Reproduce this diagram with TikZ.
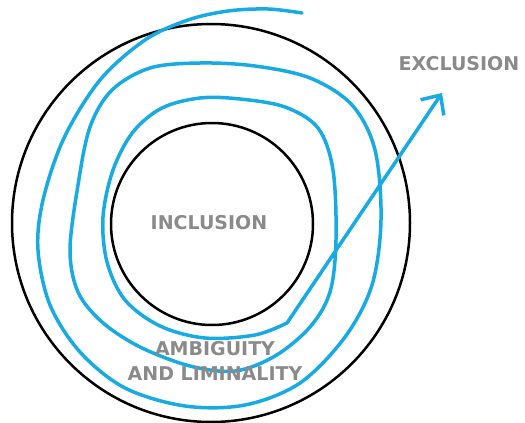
\documentclass[tikz,border=0pt]{standalone}
\usepackage{fontspec}
\usepackage{xcolor}
\usepackage{tikz}
\usetikzlibrary{arrows.meta}
\newfontfamily\labelfont{DejaVu Sans}
\definecolor{spiralblue}{RGB}{24,170,226}
\definecolor{labelgray}{RGB}{138,138,138}

\begin{document}
\begin{tikzpicture}[x=1pt,y=-1pt,
    ring/.style={draw=black, circle, line width=2.5pt, inner sep=0pt},
    spiral/.style={draw=spiralblue, line width=3.5pt, line cap=round, line join=round},
    word/.style={text=labelgray, font=\labelfont\bfseries\fontsize{19}{22}\selectfont, inner sep=0pt}]
    \useasboundingbox (0,0) rectangle (525,423);
    \node[ring, minimum size=398pt] (outer) at (211,223) {};
    \node[ring, minimum size=202pt] (inner) at (212,224) {};
    \coordinate (tip) at (442,93);
    % the spiral, out of the centre towards exclusion
    \path [spiral, -{Straight Barb[length=15pt,width=28pt]}] plot[smooth, tension=0.55] coordinates {
        (302,13) (268,9) (228,11) (188,20) (145,40) (100,80) (64,138) (43,200)
        (38,250) (50,305) (80,352) (125,388) (185,406) (245,405) (300,383)
        (345,337) (372,285) (381,220) (375,150) (352,105) (310,78) (255,66)
        (200,63) (150,68) (112,90) (90,127) (78,185) (70,250) (78,292)
        (102,322) (140,347) (190,366) (235,371) (275,356) (310,327) (330,292)
        (336,240) (333,170) (318,128) (285,107) (240,99) (200,98) (162,108)
        (133,132) (113,170) (103,217) (107,262) (125,300) (160,326) (205,338)
        (255,335) (287,323)} -- (tip);
    \node[word] (incl) at (209,223) {INCLUSION};
    \node[word] (excl) at (459,64) {EXCLUSION};
    \node[word] (ambig) at (215,349) {AMBIGUITY};
    \node[word] (limin) at (215,374) {AND LIMINALITY};
\end{tikzpicture}
\end{document}
